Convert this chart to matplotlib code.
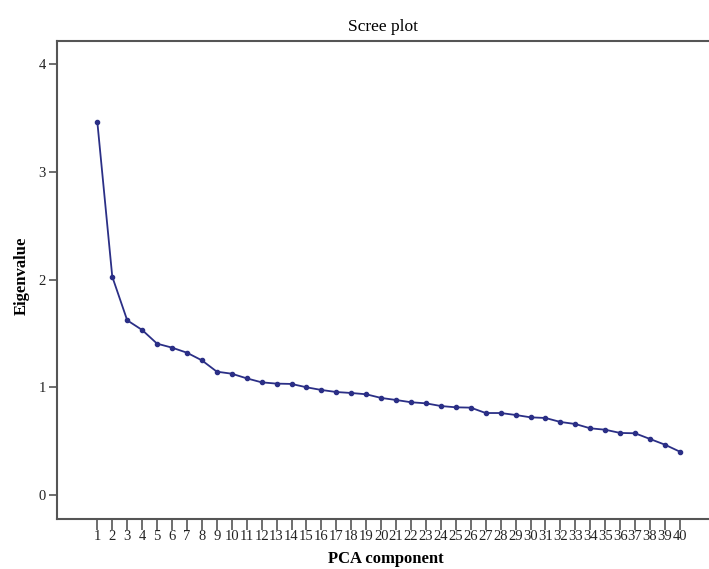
import matplotlib
matplotlib.use("Agg")
import matplotlib.pyplot as plt

components = list(range(1, 41))
eigenvalues = [3.463, 2.027, 1.622, 1.532, 1.405, 1.368, 1.321, 1.250, 1.145, 1.126,
               1.083, 1.046, 1.034, 1.031, 1.000, 0.975, 0.956, 0.947, 0.935, 0.901,
               0.882, 0.861, 0.851, 0.826, 0.814, 0.811, 0.761, 0.761, 0.743, 0.721,
               0.715, 0.678, 0.659, 0.619, 0.606, 0.576, 0.573, 0.520, 0.467, 0.402]
y_ticks = [0, 1, 2, 3, 4]

plt.rcParams['font.family'] = ['Liberation Serif', 'DejaVu Serif']

W, H = 709, 569
fig = plt.figure(figsize=(W / 100, H / 100), dpi=100)
left, right, top, bottom = 57, 709, 40.7, 519
ax = fig.add_axes([left / W, 1 - bottom / H, (right - left) / W, (bottom - top) / H])

ax.plot(components, eigenvalues, color='#2b2f86', lw=1.3, marker='o', ms=3,
        markerfacecolor='#2b2f86', markeredgecolor='#2b2f86')

ax.set_xlim(-1.7, 41.95)
ax.set_ylim(-0.223, 4.218)
ax.set_xticks(components)
ax.set_xticklabels([str(c) for c in components], fontsize=10.5)
ax.set_yticks(y_ticks)
ax.set_yticklabels([str(t) for t in y_ticks], fontsize=10.5)

for s in ['left', 'top', 'bottom']:
    ax.spines[s].set_color('#555555')
    ax.spines[s].set_linewidth(1.5)
ax.spines['right'].set_visible(False)

ax.tick_params(axis='x', length=8, width=1.2, color='#555555', pad=0, labelcolor='#222222')
ax.tick_params(axis='y', length=6, width=1.2, color='#555555', pad=2, labelcolor='#222222')

ax.set_title('Scree plot', fontsize=12.5, pad=7)
fig.text(22 / W, 1 - 276 / H, 'Eigenvalue', rotation=90, fontsize=12, fontweight='bold',
         ha='center', va='center')
fig.text(386 / W, 1 - 559 / H, 'PCA component', fontsize=12, fontweight='bold',
         ha='center', va='center')

fig.savefig('out.png', dpi=100)
